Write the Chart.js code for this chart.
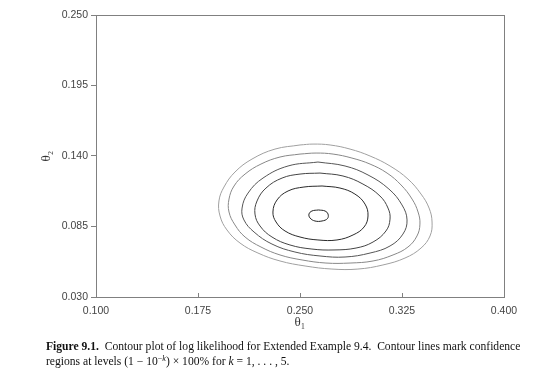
<!DOCTYPE html>
<html>
<head>
<meta charset="utf-8">
<script src="https://cdn.jsdelivr.net/npm/chart.js@4/dist/chart.umd.min.js"></script>
<style>
  html, body { margin: 0; padding: 0; background: #fff; }
  #wrap { position: relative; width: 560px; height: 382px; }
  #cap { position: absolute; left: 46px; top: 339px; width: 500px; font-family: "Liberation Serif", "Times New Roman", serif; font-size: 11.6px; line-height: 15px; color: #111; white-space: nowrap; }
  #cap b { font-weight: bold; }
</style>
</head>
<body>
<div id="wrap">
  <canvas id="c" width="560" height="382"></canvas>
  <div id="cap"><b>Figure 9.1.</b>&nbsp; Contour plot of log likelihood for Extended Example 9.4.&nbsp; Contour lines mark confidence<br>regions at levels (1 − 10<sup style="font-size:8px;vertical-align:4px;line-height:0">−<i>k</i></sup>) × 100% for <i>k</i> = 1, . . . , 5.</div>
</div>
<script>
// Tick labels
const xTicks = [0.100, 0.175, 0.250, 0.325, 0.400];
const yTicks = [0.030, 0.085, 0.140, 0.195, 0.250];

// Contour lines (theta1 values, theta2 values), innermost first
const contour1X = [0.2636, 0.2684, 0.2706, 0.2702, 0.2662, 0.2610, 0.2574, 0.2566, 0.2588, 0.2636];
const contour1Y = [0.0979, 0.0971, 0.0947, 0.0912, 0.0893, 0.0893, 0.0916, 0.0947, 0.0971, 0.0979];

const contour2X = [0.2662, 0.2794, 0.2904, 0.2978, 0.3000, 0.2971, 0.2890, 0.2772, 0.2632, 0.2500, 0.2390, 0.2324, 0.2301, 0.2331, 0.2412, 0.2529, 0.2662];
const contour2Y = [0.1166, 0.1150, 0.1103, 0.1025, 0.0932, 0.0846, 0.0784, 0.0745, 0.0745, 0.0768, 0.0815, 0.0885, 0.0963, 0.1057, 0.1127, 0.1158, 0.1166];

const contour3X = [0.2647, 0.2816, 0.2963, 0.3088, 0.3147, 0.3162, 0.3132, 0.3037, 0.2912, 0.2750, 0.2588, 0.2426, 0.2294, 0.2206, 0.2169, 0.2184, 0.2250, 0.2368, 0.2500, 0.2647];
const contour3Y = [0.1267, 0.1244, 0.1181, 0.1088, 0.0994, 0.0908, 0.0815, 0.0729, 0.0682, 0.0667, 0.0674, 0.0706, 0.0768, 0.0854, 0.0947, 0.1049, 0.1150, 0.1228, 0.1259, 0.1267];

const contour4X = [0.2632, 0.2831, 0.3000, 0.3154, 0.3250, 0.3287, 0.3257, 0.3162, 0.3015, 0.2831, 0.2647, 0.2463, 0.2294, 0.2162, 0.2088, 0.2074, 0.2118, 0.2228, 0.2412, 0.2632];
const contour4Y = [0.1353, 0.1322, 0.1252, 0.1142, 0.1018, 0.0901, 0.0791, 0.0698, 0.0643, 0.0612, 0.0620, 0.0651, 0.0713, 0.0807, 0.0901, 0.0994, 0.1111, 0.1228, 0.1322, 0.1353];

const contour5X = [0.2500, 0.2618, 0.2743, 0.2882, 0.3015, 0.3140, 0.3243, 0.3324, 0.3368, 0.3382, 0.3360, 0.3294, 0.3184, 0.3037, 0.2868, 0.2691, 0.2515, 0.2353, 0.2213, 0.2096, 0.2022, 0.1978, 0.1978, 0.2015, 0.2096, 0.2213, 0.2353, 0.2500];
const contour5Y = [0.1415, 0.1423, 0.1415, 0.1384, 0.1337, 0.1267, 0.1174, 0.1064, 0.0963, 0.0869, 0.0776, 0.0690, 0.0628, 0.0581, 0.0565, 0.0565, 0.0589, 0.0628, 0.0690, 0.0768, 0.0862, 0.0963, 0.1064, 0.1166, 0.1259, 0.1337, 0.1392, 0.1415];

const contour6X = [0.2500, 0.2596, 0.2721, 0.2868, 0.3015, 0.3162, 0.3294, 0.3390, 0.3449, 0.3471, 0.3456, 0.3390, 0.3272, 0.3110, 0.2926, 0.2735, 0.2537, 0.2353, 0.2191, 0.2059, 0.1963, 0.1912, 0.1904, 0.1941, 0.2022, 0.2147, 0.2316, 0.2500];
const contour6Y = [0.1486, 0.1493, 0.1486, 0.1454, 0.1400, 0.1322, 0.1220, 0.1103, 0.0994, 0.0885, 0.0776, 0.0682, 0.0604, 0.0550, 0.0518, 0.0518, 0.0542, 0.0581, 0.0643, 0.0721, 0.0823, 0.0932, 0.1049, 0.1158, 0.1275, 0.1376, 0.1454, 0.1486];

const contours = [
  [contour1X, contour1Y, '#222'],
  [contour2X, contour2Y, '#2a2a2a'],
  [contour3X, contour3Y, '#444'],
  [contour4X, contour4Y, '#555'],
  [contour5X, contour5Y, '#888'],
  [contour6X, contour6Y, '#a0a0a0']
];

const datasets = contours.map(([xs, ys, col]) => ({
  data: xs.map((x, i) => ({ x: x, y: ys[i] })),
  showLine: true,
  borderColor: col,
  borderWidth: 1,
  pointRadius: 0,
  tension: 0.4,
  fill: false
}));

const AXIS = '#808080';
const frame = {
  id: 'frame',
  afterDraw(chart) {
    const { ctx, chartArea: a, scales } = chart;
    ctx.save();
    ctx.strokeStyle = AXIS;
    ctx.lineWidth = 1;
    ctx.strokeRect(Math.round(a.left) + 0.5, Math.round(a.top) + 0.5, Math.round(a.right - a.left), Math.round(a.bottom - a.top));
    // inward ticks on the x axis
    ctx.beginPath();
    xTicks.forEach(v => {
      const px = Math.round(scales.x.getPixelForValue(v)) + 0.5;
      ctx.moveTo(px, a.bottom);
      ctx.lineTo(px, a.bottom - 4);
    });
    ctx.stroke();
    ctx.restore();
  }
};

new Chart(document.getElementById('c'), {
  type: 'scatter',
  data: { datasets },
  options: {
    responsive: false,
    animation: false,
    layout: { padding: { left: 0, right: 56, top: 15, bottom: 50 } },
    plugins: { legend: { display: false }, tooltip: { enabled: false } },
    scales: {
      x: {
        type: 'linear', min: 0.1, max: 0.4,
        afterBuildTicks: s => { s.ticks = xTicks.map(v => ({ value: v })); },
        afterFit: s => { s.height = 35; },
        grid: { display: true, drawOnChartArea: false, drawTicks: false, color: AXIS },
        border: { display: true, color: AXIS },
        ticks: { padding: 8, color: '#444', font: { family: 'Liberation Sans, Arial, sans-serif', size: 10.5 }, maxRotation: 0, callback: v => v.toFixed(3) },
        title: { display: true, text: 'θ\u2081', color: '#333', padding: { top: 0, bottom: 2 }, font: { family: 'Liberation Serif, serif', size: 13 } }
      },
      y: {
        type: 'linear', min: 0.03, max: 0.25,
        afterBuildTicks: s => { s.ticks = yTicks.map(v => ({ value: v })); },
        afterFit: s => { s.width = 96; },
        grid: { display: true, drawOnChartArea: false, drawTicks: true, tickLength: 5, color: AXIS },
        border: { display: true, color: AXIS },
        ticks: { padding: 3, color: '#444', font: { family: 'Liberation Sans, Arial, sans-serif', size: 10.5 }, callback: v => v.toFixed(3) },
        title: { display: true, text: 'θ\u2082', color: '#333', padding: { top: 39, bottom: 0 }, font: { family: 'Liberation Serif, serif', size: 13 } }
      }
    }
  },
  plugins: [frame]
});
</script>
</body>
</html>
